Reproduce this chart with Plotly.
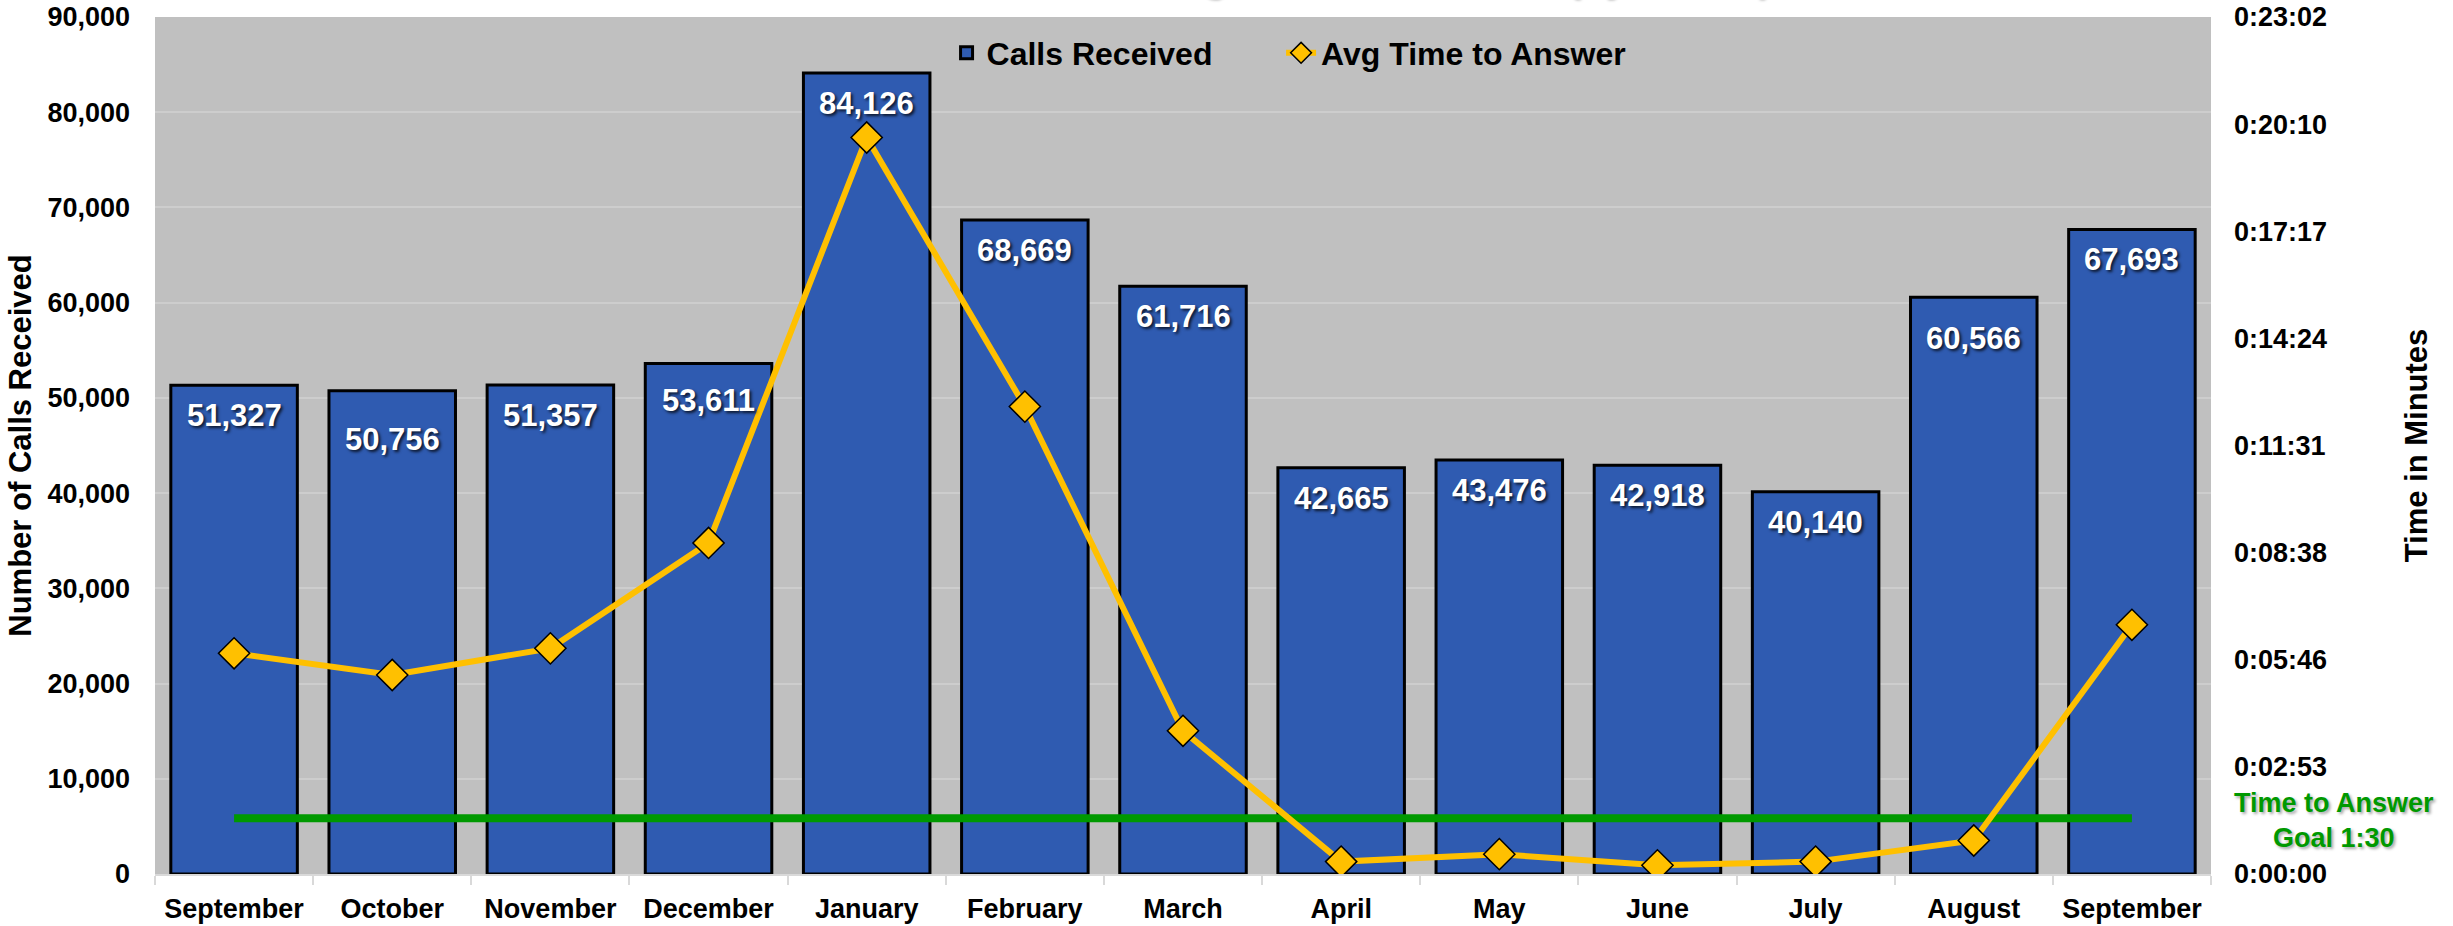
import plotly.graph_objects as go

# ---- data -------------------------------------------------------------
months = ["September", "October", "November", "December", "January", "February",
          "March", "April", "May", "June", "July", "August", "September"]
calls_received = [51327, 50756, 51357, 53611, 84126, 68669, 61716,
                  42665, 43476, 42918, 40140, 60566, 67693]
# average time to answer, in seconds
avg_answer_sec = [356, 321, 364, 534, 1188, 754, 231, 20, 32, 14, 20, 54, 402]
goal_sec = 90  # 1:30 target
calls_ticks = list(range(0, 90001, 10000))
time_tick_text = ["0:00:00", "0:02:53", "0:05:46", "0:08:38", "0:11:31",
                  "0:14:24", "0:17:17", "0:20:10", "0:23:02"]

# ---- styling ----------------------------------------------------------
FONT = "Liberation Sans, Arial, sans-serif"
BAR_BLUE = "#2F5BB1"
GOLD = "#FFC000"
GREEN = "#009900"
TIME_STEP = 172.8          # 0.002 day in seconds
TIME_MAX = TIME_STEP * 8   # 0:23:02
label_extra_drop = {1: 18, 3: 6, 11: 11}
LEGEND_FONT = dict(family=FONT, size=32, color="black", weight="bold")

x = list(range(len(months)))

fig = go.Figure()

fig.add_trace(go.Bar(
    x=x, y=calls_received, name="Calls Received",
    marker=dict(color=BAR_BLUE, line=dict(color="black", width=3)),
    yaxis="y", legend="legend",
))

fig.add_trace(go.Scatter(
    x=x, y=[goal_sec] * len(x), mode="lines", showlegend=False,
    line=dict(color=GREEN, width=8), yaxis="y2", hoverinfo="skip",
))

fig.add_trace(go.Scatter(
    x=x, y=avg_answer_sec, name="Avg Time to Answer", mode="lines+markers",
    line=dict(color=GOLD, width=6),
    marker=dict(symbol="diamond", size=24, color=GOLD,
                line=dict(color="black", width=1.5)),
    yaxis="y2", legend="legend2",
))

# value labels inside the top of each bar
for i, v in enumerate(calls_received):
    fig.add_annotation(
        x=i, y=v, xref="x", yref="y", yanchor="top",
        yshift=-11 - label_extra_drop.get(i, 0),
        text=f"{v:,}", showarrow=False,
        font=dict(family=FONT, size=31, color="white", weight="bold",
                  shadow="2px 2px 3px rgba(0,0,0,0.75)"),
    )

# chart title (runs off the top edge)
fig.add_annotation(
    x=0.54, y=1.0198, xref="paper", yref="paper", yanchor="bottom",
    text="Calls Received & Average Time to Answer (by Month)", showarrow=False,
    font=dict(family=FONT, size=40, color="black", weight="bold",
              shadow="2px 2px 3px rgba(0,0,0,0.4)"),
)

# goal caption on the right
fig.add_annotation(
    x=1.06, y=(goal_sec / TIME_MAX), xref="paper", yref="paper", xanchor="center",
    yanchor="middle", yshift=-2,
    text="Time to Answer<br>Goal 1:30", showarrow=False,
    font=dict(family=FONT, size=27, color=GREEN, weight="bold",
              shadow="2px 2px 3px rgba(0,0,0,0.35)"),
)

fig.update_layout(
    template="none",
    width=2453, height=926,
    margin=dict(l=155, r=242, t=17, b=52, autoexpand=False),
    paper_bgcolor="white",
    plot_bgcolor="#C0C0C0",
    bargap=0.2,
    font=dict(family=FONT, size=27, color="black", weight="bold"),
    showlegend=True,
    legend=dict(orientation="h", x=0.385, xanchor="left", y=0.958,
                yanchor="middle", bgcolor="rgba(0,0,0,0)", font=LEGEND_FONT),
    legend2=dict(orientation="h", x=0.5477, xanchor="left", y=0.958,
                 yanchor="middle", bgcolor="rgba(0,0,0,0)", font=LEGEND_FONT),
    xaxis=dict(
        automargin=False,
        range=[-0.5, len(months) - 0.5],
        tickmode="array", tickvals=x, ticktext=months,
        ticks="", showgrid=False, zeroline=False,
        showline=True, linecolor="#D9D9D9", linewidth=2,
        ticklabelstandoff=10,
        minor=dict(tickmode="array",
                   tickvals=[i - 0.5 for i in range(len(months) + 1)],
                   ticks="outside", ticklen=9, tickcolor="#D9D9D9",
                   tickwidth=2, showgrid=False),
        tickfont=dict(family=FONT, size=27, color="black", weight="bold"),
    ),
    yaxis=dict(
        automargin=False,
        range=[0, 90000], tickvals=calls_ticks, tickformat=",",
        showgrid=True, gridcolor="#CDCDCD", gridwidth=2,
        zeroline=False, ticks="", ticklabelstandoff=24, showline=False,
        tickfont=dict(family=FONT, size=27, color="black", weight="bold"),
        title=dict(text="Number of Calls Received", standoff=6,
                   font=dict(family=FONT, size=31, color="black", weight="bold")),
    ),
    yaxis2=dict(
        automargin=False,
        range=[0, TIME_MAX], overlaying="y", side="right",
        tickvals=[k * TIME_STEP for k in range(len(time_tick_text))],
        ticktext=time_tick_text, showgrid=False, zeroline=False,
        ticks="", ticklabelstandoff=22, showline=False,
        tickfont=dict(family=FONT, size=27, color="black", weight="bold"),
        title=dict(text="Time in Minutes", standoff=79,
                   font=dict(family=FONT, size=31, color="black", weight="bold")),
    ),
)

fig.write_html("out.html")
